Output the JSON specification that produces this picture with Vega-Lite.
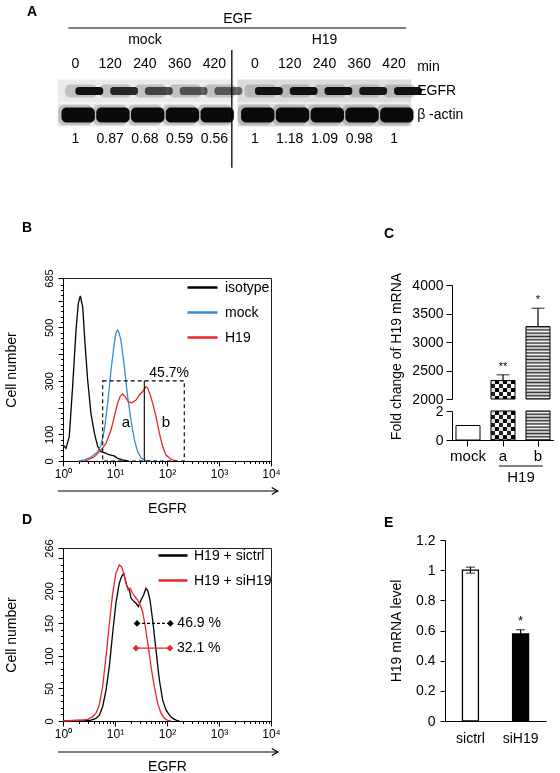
{
"$schema": "https://vega.github.io/schema/vega-lite/v6.json",
"autosize": {"type": "pad"},
"padding": {"left": 3, "top": 5, "right": 0, "bottom": 0},
"background": "white",
"config": {
  "font": "Liberation Sans",
  "view": {"stroke": null},
  "mark": {"color": "#000"},
  "axis": {"grid": false, "domainColor": "#000", "tickColor": "#000", "labelColor": "#000", "titleColor": "#000", "titleFontWeight": "normal", "labelFont": "Liberation Sans", "titleFont": "Liberation Sans", "labelOverlap": false, "labelFlush": false},
  "legend": {"labelColor": "#000", "labelFont": "Liberation Sans"},
  "title": {"fontSize": 14, "fontWeight": "bold", "anchor": "start", "color": "#000", "font": "Liberation Sans", "frame": "group", "baseline": "middle"},
  "text": {"font": "Liberation Sans", "color": "#000"}
},
"datasets": {
  "blot": [
    {"group": "mock", "time": "0", "protein": "EGFR", "intensity": 1},
    {"group": "mock", "time": "120", "protein": "EGFR", "intensity": 0.87},
    {"group": "mock", "time": "240", "protein": "EGFR", "intensity": 0.68},
    {"group": "mock", "time": "360", "protein": "EGFR", "intensity": 0.59},
    {"group": "mock", "time": "420", "protein": "EGFR", "intensity": 0.56},
    {"group": "H19", "time": "0", "protein": "EGFR", "intensity": 1},
    {"group": "H19", "time": "120", "protein": "EGFR", "intensity": 1.18},
    {"group": "H19", "time": "240", "protein": "EGFR", "intensity": 1.09},
    {"group": "H19", "time": "360", "protein": "EGFR", "intensity": 0.98},
    {"group": "H19", "time": "420", "protein": "EGFR", "intensity": 1},
    {"group": "mock", "time": "0", "protein": "actin", "intensity": 1},
    {"group": "mock", "time": "120", "protein": "actin", "intensity": 1},
    {"group": "mock", "time": "240", "protein": "actin", "intensity": 1},
    {"group": "mock", "time": "360", "protein": "actin", "intensity": 1},
    {"group": "mock", "time": "420", "protein": "actin", "intensity": 1},
    {"group": "H19", "time": "0", "protein": "actin", "intensity": 1},
    {"group": "H19", "time": "120", "protein": "actin", "intensity": 1},
    {"group": "H19", "time": "240", "protein": "actin", "intensity": 1},
    {"group": "H19", "time": "360", "protein": "actin", "intensity": 1},
    {"group": "H19", "time": "420", "protein": "actin", "intensity": 1}
  ],
  "flowB": [
    {"series": "isotype", "x": 1.01, "count": 60}, {"series": "isotype", "x": 1.14, "count": 47}, {"series": "isotype", "x": 1.32, "count": 91}, {"series": "isotype", "x": 1.53, "count": 278}, {"series": "isotype", "x": 1.78, "count": 490}, {"series": "isotype", "x": 1.97, "count": 590}, {"series": "isotype", "x": 2.15, "count": 618}, {"series": "isotype", "x": 2.39, "count": 578}, {"series": "isotype", "x": 2.65, "count": 440}, {"series": "isotype", "x": 2.98, "count": 303}, {"series": "isotype", "x": 3.45, "count": 178}, {"series": "isotype", "x": 4.01, "count": 104}, {"series": "isotype", "x": 4.65, "count": 54}, {"series": "isotype", "x": 5.38, "count": 35}, {"series": "isotype", "x": 6.24, "count": 31}, {"series": "isotype", "x": 7.23, "count": 26}, {"series": "isotype", "x": 8.38, "count": 22}, {"series": "isotype", "x": 9.7, "count": 19}, {"series": "isotype", "x": 11.2, "count": 10}, {"series": "isotype", "x": 14.0, "count": 4}, {"series": "isotype", "x": 17.5, "count": 0},
    {"series": "mock", "x": 2.0, "count": 0}, {"series": "mock", "x": 2.57, "count": 4}, {"series": "mock", "x": 3.45, "count": 14}, {"series": "mock", "x": 4.65, "count": 35}, {"series": "mock", "x": 5.38, "count": 60}, {"series": "mock", "x": 6.24, "count": 116}, {"series": "mock", "x": 7.23, "count": 216}, {"series": "mock", "x": 8.38, "count": 341}, {"series": "mock", "x": 9.7, "count": 440}, {"series": "mock", "x": 10.4, "count": 478}, {"series": "mock", "x": 11.2, "count": 490}, {"series": "mock", "x": 11.7, "count": 485}, {"series": "mock", "x": 13.0, "count": 453}, {"series": "mock", "x": 15.1, "count": 353}, {"series": "mock", "x": 17.5, "count": 241}, {"series": "mock", "x": 20.3, "count": 153}, {"series": "mock", "x": 23.6, "count": 79}, {"series": "mock", "x": 27.3, "count": 35}, {"series": "mock", "x": 31.6, "count": 12}, {"series": "mock", "x": 39.4, "count": 1}, {"series": "mock", "x": 50, "count": 0},
    {"series": "H19", "x": 2.6, "count": 0}, {"series": "H19", "x": 2.98, "count": 4}, {"series": "H19", "x": 4.01, "count": 16}, {"series": "H19", "x": 5.38, "count": 41}, {"series": "H19", "x": 6.71, "count": 66}, {"series": "H19", "x": 8.38, "count": 116}, {"series": "H19", "x": 9.7, "count": 166}, {"series": "H19", "x": 11.2, "count": 216}, {"series": "H19", "x": 12.7, "count": 243}, {"series": "H19", "x": 14.0, "count": 251}, {"series": "H19", "x": 15.6, "count": 241}, {"series": "H19", "x": 18.0, "count": 222}, {"series": "H19", "x": 20.9, "count": 218}, {"series": "H19", "x": 25.4, "count": 228}, {"series": "H19", "x": 29.4, "count": 247}, {"series": "H19", "x": 34.0, "count": 260}, {"series": "H19", "x": 39.4, "count": 278}, {"series": "H19", "x": 42.5, "count": 272}, {"series": "H19", "x": 47.8, "count": 247}, {"series": "H19", "x": 53.0, "count": 216}, {"series": "H19", "x": 61.4, "count": 166}, {"series": "H19", "x": 71.3, "count": 104}, {"series": "H19", "x": 82.6, "count": 54}, {"series": "H19", "x": 95.7, "count": 22}, {"series": "H19", "x": 119, "count": 7}, {"series": "H19", "x": 149, "count": 0}
  ],
  "flowD": [
    {"series": "H19 + sictrl", "x": 1, "count": 0}, {"series": "H19 + sictrl", "x": 2.57, "count": 0}, {"series": "H19 + sictrl", "x": 3.45, "count": 1.5}, {"series": "H19 + sictrl", "x": 4.31, "count": 4}, {"series": "H19 + sictrl", "x": 5.0, "count": 9}, {"series": "H19 + sictrl", "x": 5.79, "count": 22}, {"series": "H19 + sictrl", "x": 6.71, "count": 47}, {"series": "H19 + sictrl", "x": 7.78, "count": 84}, {"series": "H19 + sictrl", "x": 9.02, "count": 135}, {"series": "H19 + sictrl", "x": 10.4, "count": 181}, {"series": "H19 + sictrl", "x": 12.1, "count": 212}, {"series": "H19 + sictrl", "x": 13.4, "count": 222}, {"series": "H19 + sictrl", "x": 14.7, "count": 227}, {"series": "H19 + sictrl", "x": 15.6, "count": 219}, {"series": "H19 + sictrl", "x": 17.0, "count": 207}, {"series": "H19 + sictrl", "x": 18.9, "count": 201}, {"series": "H19 + sictrl", "x": 20.3, "count": 189}, {"series": "H19 + sictrl", "x": 22.9, "count": 184}, {"series": "H19 + sictrl", "x": 25.4, "count": 181}, {"series": "H19 + sictrl", "x": 28.1, "count": 176}, {"series": "H19 + sictrl", "x": 31.6, "count": 186}, {"series": "H19 + sictrl", "x": 35.6, "count": 194}, {"series": "H19 + sictrl", "x": 39.4, "count": 204}, {"series": "H19 + sictrl", "x": 42.5, "count": 201}, {"series": "H19 + sictrl", "x": 47.1, "count": 186}, {"series": "H19 + sictrl", "x": 53.0, "count": 155}, {"series": "H19 + sictrl", "x": 61.4, "count": 109}, {"series": "H19 + sictrl", "x": 71.3, "count": 63}, {"series": "H19 + sictrl", "x": 82.6, "count": 32}, {"series": "H19 + sictrl", "x": 95.7, "count": 17}, {"series": "H19 + sictrl", "x": 111, "count": 9}, {"series": "H19 + sictrl", "x": 129, "count": 4}, {"series": "H19 + sictrl", "x": 149, "count": 1.5}, {"series": "H19 + sictrl", "x": 173, "count": 0},
    {"series": "H19 + siH19", "x": 1, "count": 0}, {"series": "H19 + siH19", "x": 2.22, "count": 1.5}, {"series": "H19 + siH19", "x": 2.98, "count": 2.6}, {"series": "H19 + siH19", "x": 3.72, "count": 6.7}, {"series": "H19 + siH19", "x": 4.31, "count": 12}, {"series": "H19 + siH19", "x": 5.0, "count": 25}, {"series": "H19 + siH19", "x": 5.79, "count": 53}, {"series": "H19 + siH19", "x": 6.71, "count": 99}, {"series": "H19 + siH19", "x": 7.78, "count": 150}, {"series": "H19 + siH19", "x": 9.02, "count": 196}, {"series": "H19 + siH19", "x": 10.4, "count": 227}, {"series": "H19 + siH19", "x": 12.1, "count": 240}, {"series": "H19 + siH19", "x": 13.4, "count": 237}, {"series": "H19 + siH19", "x": 14.7, "count": 227}, {"series": "H19 + siH19", "x": 16.3, "count": 212}, {"series": "H19 + siH19", "x": 18.0, "count": 201}, {"series": "H19 + siH19", "x": 19.7, "count": 204}, {"series": "H19 + siH19", "x": 21.9, "count": 196}, {"series": "H19 + siH19", "x": 24.3, "count": 191}, {"series": "H19 + siH19", "x": 27.3, "count": 186}, {"series": "H19 + siH19", "x": 30.7, "count": 178}, {"series": "H19 + siH19", "x": 34.0, "count": 168}, {"series": "H19 + siH19", "x": 38.3, "count": 145}, {"series": "H19 + siH19", "x": 43.8, "count": 114}, {"series": "H19 + siH19", "x": 49.2, "count": 84}, {"series": "H19 + siH19", "x": 57.0, "count": 53}, {"series": "H19 + siH19", "x": 66.2, "count": 27}, {"series": "H19 + siH19", "x": 76.7, "count": 12}, {"series": "H19 + siH19", "x": 88.9, "count": 4}, {"series": "H19 + siH19", "x": 103, "count": 1}, {"series": "H19 + siH19", "x": 119, "count": 0}
  ],
  "gateD": [
    {"marker": "sictrl", "lo": 26.5, "hi": 116, "level": 150, "pct": "46.9 %"},
    {"marker": "siH19", "lo": 25.3, "hi": 114, "level": 112, "pct": "32.1 %"}
  ],
  "qpcrC": [
    {"grp": "mock", "mean": 1, "hi": 1, "sig": ""},
    {"grp": "a", "mean": 2325, "hi": 2425, "sig": "**"},
    {"grp": "b", "mean": 3270, "hi": 3592, "sig": "*"}
  ],
  "qpcrE": [
    {"cond": "sictrl", "mean": 1.0, "lo": 0.98, "hi": 1.02, "sig": ""},
    {"cond": "siH19", "mean": 0.577, "lo": 0.55, "hi": 0.605, "sig": "*"}
  ]
},
"spacing": 103,
"bounds": "flush",
"resolve": {"scale": {"color": "independent", "opacity": "independent", "strokeDash": "independent"}, "legend": {"color": "independent", "opacity": "independent"}},
"vconcat": [
  {
    "width": 400, "height": 155,
    "title": {"text": "A", "dx": -36, "offset": -7},
    "layer": [
      {
        "data": {"values": [{"group": "mock", "protein": "EGFR"}, {"group": "mock", "protein": "actin"}, {"group": "H19", "protein": "EGFR"}, {"group": "H19", "protein": "actin"}]},
        "mark": {"type": "rect", "height": {"band": 0.95}},
        "encoding": {
          "x": {"field": "group", "type": "nominal", "scale": {"domain": ["mock", "H19", "label"], "range": [-5, 528], "paddingInner": 0.032, "paddingOuter": 0}, "axis": null},
          "y": {"field": "protein", "type": "nominal", "scale": {"type": "band", "domain": ["EGF", "group", "time", "EGFR", "actin", "ratio", "end"], "range": [-13, 155], "paddingInner": 0, "paddingOuter": 0}, "axis": null},
          "color": {"condition": {"test": "datum.group == 'H19'", "value": "#dcdcdc"}, "value": "#ebebeb"}
        }
      },
      {
        "data": {"name": "blot"},
        "transform": [{"filter": "datum.protein == 'EGFR'"}],
        "mark": {"type": "rect", "width": {"band": 0.92}, "height": {"band": 0.55}, "cornerRadius": 5, "color": "#444", "opacity": 0.25},
        "encoding": {
          "x": {"field": "group", "type": "nominal", "axis": null},
          "xOffset": {"field": "time", "type": "nominal", "scale": {"domain": ["0", "120", "240", "360", "420"], "paddingInner": 0, "paddingOuter": 0}},
          "y": {"field": "protein", "type": "nominal", "axis": null}
        }
      },
      {
        "data": {"name": "blot"},
        "transform": [{"filter": "datum.protein == 'EGFR'"}],
        "mark": {"type": "rect", "width": {"band": 0.8}, "height": {"band": 0.34}, "cornerRadius": 3, "color": "#111"},
        "encoding": {
          "x": {"field": "group", "type": "nominal", "axis": null},
          "xOffset": {"field": "time", "type": "nominal"},
          "y": {"field": "protein", "type": "nominal", "axis": null},
          "opacity": {"field": "intensity", "type": "quantitative", "scale": {"domain": [0.5, 1], "range": [0.55, 1], "clamp": true}, "legend": null}
        }
      },
      {
        "data": {"name": "blot"},
        "transform": [{"filter": "datum.protein == 'actin'"}],
        "mark": {"type": "rect", "width": {"band": 1.0}, "height": {"band": 0.85}, "cornerRadius": 6, "color": "#444", "opacity": 0.25},
        "encoding": {
          "x": {"field": "group", "type": "nominal", "axis": null},
          "xOffset": {"field": "time", "type": "nominal"},
          "y": {"field": "protein", "type": "nominal", "axis": null}
        }
      },
      {
        "data": {"name": "blot"},
        "transform": [{"filter": "datum.protein == 'actin'"}],
        "mark": {"type": "rect", "width": {"band": 0.96}, "height": {"band": 0.62}, "cornerRadius": 5, "color": "#0a0a0a"},
        "encoding": {
          "x": {"field": "group", "type": "nominal", "axis": null},
          "xOffset": {"field": "time", "type": "nominal"},
          "y": {"field": "protein", "type": "nominal", "axis": null}
        }
      },
      {
        "data": {"name": "blot"},
        "transform": [{"filter": "datum.protein == 'EGFR'"}],
        "mark": {"type": "text", "fontSize": 14, "dy": -3},
        "encoding": {
          "x": {"field": "group", "type": "nominal", "axis": null},
          "xOffset": {"field": "time", "type": "nominal"},
          "y": {"datum": "time", "type": "nominal", "axis": null},
          "text": {"field": "time", "type": "nominal"}
        }
      },
      {
        "data": {"name": "blot"},
        "transform": [{"filter": "datum.protein == 'EGFR'"}],
        "mark": {"type": "text", "fontSize": 14},
        "encoding": {
          "x": {"field": "group", "type": "nominal", "axis": null},
          "xOffset": {"field": "time", "type": "nominal"},
          "y": {"datum": "ratio", "type": "nominal", "axis": null},
          "text": {"field": "intensity", "type": "quantitative", "format": "~g"}
        }
      },
      {
        "data": {"values": [{"group": "mock"}, {"group": "H19"}]},
        "mark": {"type": "text", "fontSize": 14, "dy": -3},
        "encoding": {
          "x": {"field": "group", "type": "nominal", "axis": null},
          "y": {"datum": "group", "type": "nominal", "axis": null},
          "text": {"field": "group", "type": "nominal"}
        }
      },
      {
        "data": {"values": [{"row": "time", "lab": "min"}, {"row": "EGFR", "lab": "EGFR"}, {"row": "actin", "lab": "β -actin"}]},
        "mark": {"type": "text", "fontSize": 14, "align": "left"},
        "encoding": {
          "x": {"datum": "label", "type": "nominal", "bandPosition": 0, "axis": null},
          "y": {"field": "row", "type": "nominal", "axis": null},
          "text": {"field": "lab", "type": "nominal"}
        }
      },
      {
        "data": {"values": [{}]},
        "mark": {"type": "text", "fontSize": 14, "text": "EGF"},
        "encoding": {
          "x": {"datum": "H19", "type": "nominal", "bandPosition": 0, "axis": null},
          "y": {"datum": "EGF", "type": "nominal", "axis": null}
        }
      },
      {
        "data": {"values": [{}]},
        "mark": {"type": "rule", "strokeWidth": 1.2},
        "encoding": {
          "x": {"datum": "mock", "type": "nominal", "bandPosition": 0.06, "axis": null},
          "x2": {"datum": "H19", "bandPosition": 0.97},
          "y": {"datum": "EGF", "type": "nominal", "bandPosition": 0.875, "axis": null}
        }
      },
      {
        "data": {"values": [{}]},
        "mark": {"type": "rule", "strokeWidth": 1.3},
        "encoding": {
          "x": {"datum": "mock", "type": "nominal", "bandPosition": 1, "axis": null},
          "y": {"datum": "group", "type": "nominal", "bandPosition": 0.79, "axis": null},
          "y2": {"datum": "end", "bandPosition": 0.7}
        }
      }
    ]
  },
  {
    "spacing": 389,
    "bounds": "flush",
    "resolve": {"scale": {"color": "independent", "opacity": "independent", "strokeDash": "independent"}, "legend": {"color": "independent", "opacity": "independent"}},
    "hconcat": [
      {
        "spacing": 87,
        "bounds": "flush",
        "resolve": {"scale": {"color": "independent", "opacity": "independent", "strokeDash": "independent"}, "legend": {"color": "independent", "opacity": "independent"}},
        "vconcat": [
          {
            "width": 208, "height": 183,
            "view": {"stroke": "#222"},
            "title": {"text": "B", "dx": -41, "offset": 34},
            "resolve": {"axis": {"x": "independent", "y": "independent"}},
            "layer": [
              {
                "data": {"name": "flowB"},
                "mark": {"type": "line", "strokeWidth": 1.3},
                "encoding": {
                  "x": {"field": "x", "type": "quantitative", "scale": {"type": "log", "domain": [1, 10000], "nice": false},
                    "axis": {"title": "EGFR", "titleFontSize": 14, "titlePadding": 22, "values": [1,2,3,4,5,6,7,8,9,10,20,30,40,50,60,70,80,90,100,200,300,400,500,600,700,800,900,1000,2000,3000,4000,5000,6000,7000,8000,9000,10000],
                      "labelExpr": "indexof([1,10,100,1000,10000], datum.value) >= 0 ? '10' + ['⁰','¹','²','³','⁴'][round(log(datum.value)/LN10)] : ''",
                      "labelFontSize": 12, "labelPadding": 2, "labelOverlap": false, "labelFlush": false,
                      "tickSize": {"condition": {"test": "indexof([1,10,100,1000,10000], datum.value) >= 0", "value": 5}, "value": 2.5}}},
                  "y": {"field": "count", "type": "quantitative", "scale": {"domain": [0, 685], "nice": false},
                    "axis": {"title": "Cell number", "titleFontSize": 14, "titlePadding": 25, "values": [0,20,40,60,80,100,120,140,160,180,200,220,240,260,280,300,320,340,360,380,400,420,440,460,480,500,520,540,560,580,600,620,640,660,685],
                      "labelExpr": "indexof([0,100,300,500,685], datum.value) >= 0 ? datum.label : ''",
                      "labelAngle": -90, "labelAlign": "center", "labelBaseline": "bottom", "labelFontSize": 11, "labelPadding": 4, "labelOverlap": false, "labelFlush": false,
                      "tickSize": {"condition": {"test": "datum.value % 100 == 0 || datum.value == 685", "value": 5}, "value": 2.5}}},
                  "color": {"field": "series", "type": "nominal", "scale": {"domain": ["isotype", "mock", "H19"], "range": ["#000000", "#3a8dd0", "#e8262b"]},
                    "legend": {"orient": "none", "legendX": 123, "legendY": -3, "title": null, "symbolType": "stroke", "symbolSize": 900, "symbolStrokeWidth": 2.5, "labelFontSize": 14, "labelOffset": 6, "clipHeight": 25, "rowPadding": 0}}
                }
              },
              {
                "data": {"values": [{}]},
                "mark": {"type": "rect", "fill": "transparent", "stroke": "#000", "strokeDash": [4, 3], "strokeWidth": 1.1},
                "encoding": {
                  "x": {"datum": 5.8, "type": "quantitative", "axis": null}, "x2": {"datum": 215},
                  "y": {"datum": 300, "type": "quantitative", "axis": null}, "y2": {"datum": 0}
                }
              },
              {
                "data": {"values": [{}]},
                "mark": {"type": "rule", "strokeWidth": 1.1},
                "encoding": {
                  "x": {"datum": 36.6, "type": "quantitative", "axis": null},
                  "y": {"datum": 300, "type": "quantitative", "axis": null}, "y2": {"datum": 0}
                }
              },
              {
                "data": {"values": [{}]},
                "mark": {"type": "text", "fontSize": 14, "align": "left", "baseline": "middle", "text": "45.7%"},
                "encoding": {"x": {"datum": 45.7, "type": "quantitative", "axis": null}, "y": {"datum": 329, "type": "quantitative", "axis": null}}
              },
              {
                "data": {"values": [{}]},
                "mark": {"type": "text", "fontSize": 15, "baseline": "middle", "text": "a"},
                "encoding": {"x": {"datum": 16.2, "type": "quantitative", "axis": null}, "y": {"datum": 147, "type": "quantitative", "axis": null}}
              },
              {
                "data": {"values": [{}]},
                "mark": {"type": "text", "fontSize": 15, "baseline": "middle", "text": "b"},
                "encoding": {"x": {"datum": 95.7, "type": "quantitative", "axis": null}, "y": {"datum": 147, "type": "quantitative", "axis": null}}
              },
              {
                "data": {"values": [{}]},
                "mark": {"type": "rule", "strokeWidth": 1.2, "yOffset": 30},
                "encoding": {"x": {"datum": 0.8, "type": "quantitative", "axis": null}, "x2": {"datum": 13500}, "y": {"datum": 0, "type": "quantitative", "axis": null}}
              },
              {
                "data": {"values": [{}]},
                "mark": {"type": "point", "shape": "M -1 -0.6 L 0 0 L -1 0.6", "filled": false, "size": 144, "strokeWidth": 1.2, "yOffset": 30, "opacity": 1},
                "encoding": {"x": {"datum": 13500, "type": "quantitative", "axis": null}, "y": {"datum": 0, "type": "quantitative", "axis": null}}
              }
            ]
          },
          {
            "width": 208, "height": 173,
            "view": {"stroke": "#222"},
            "title": {"text": "D", "dx": -41, "offset": 12},
            "resolve": {"axis": {"x": "independent", "y": "independent"}},
            "layer": [
              {
                "data": {"name": "flowD"},
                "mark": {"type": "line", "strokeWidth": 1.3},
                "encoding": {
                  "x": {"field": "x", "type": "quantitative", "scale": {"type": "log", "domain": [1, 10000], "nice": false},
                    "axis": {"title": "EGFR", "titleFontSize": 14, "titlePadding": 20, "values": [1,2,3,4,5,6,7,8,9,10,20,30,40,50,60,70,80,90,100,200,300,400,500,600,700,800,900,1000,2000,3000,4000,5000,6000,7000,8000,9000,10000],
                      "labelExpr": "indexof([1,10,100,1000,10000], datum.value) >= 0 ? '10' + ['⁰','¹','²','³','⁴'][round(log(datum.value)/LN10)] : ''",
                      "labelFontSize": 12, "labelPadding": 2, "labelOverlap": false, "labelFlush": false,
                      "tickSize": {"condition": {"test": "indexof([1,10,100,1000,10000], datum.value) >= 0", "value": 5}, "value": 2.5}}},
                  "y": {"field": "count", "type": "quantitative", "scale": {"domain": [0, 266], "nice": false},
                    "axis": {"title": "Cell number", "titleFontSize": 14, "titlePadding": 25, "values": [0,10,20,30,40,50,60,70,80,90,100,110,120,130,140,150,160,170,180,190,200,210,220,230,240,250,266],
                      "labelExpr": "indexof([0,50,100,150,200,266], datum.value) >= 0 ? datum.label : ''",
                      "labelAngle": -90, "labelAlign": "center", "labelBaseline": "bottom", "labelFontSize": 11, "labelPadding": 4, "labelOverlap": false, "labelFlush": false,
                      "tickSize": {"condition": {"test": "datum.value % 50 == 0 || datum.value == 266", "value": 5}, "value": 2.5}}},
                  "color": {"field": "series", "type": "nominal", "scale": {"domain": ["H19 + sictrl", "H19 + siH19"], "range": ["#000000", "#e8262b"]},
                    "legend": {"orient": "none", "legendX": 94, "legendY": -5, "title": null, "symbolType": "stroke", "symbolSize": 841, "symbolStrokeWidth": 2.5, "labelFontSize": 14, "labelOffset": 5, "clipHeight": 25, "rowPadding": 0}}
                }
              },
              {
                "data": {"name": "gateD"},
                "mark": {"type": "rule", "strokeWidth": 1.3},
                "encoding": {
                  "x": {"field": "lo", "type": "quantitative", "axis": null}, "x2": {"field": "hi"},
                  "y": {"field": "level", "type": "quantitative", "axis": null},
                  "color": {"condition": {"test": "datum.marker == 'siH19'", "value": "#e8262b"}, "value": "#000"},
                  "strokeDash": {"condition": {"test": "datum.marker == 'siH19'", "value": [1, 0]}, "value": [3, 2]}
                }
              },
              {
                "data": {"name": "gateD"},
                "mark": {"type": "point", "shape": "diamond", "filled": true, "size": 45, "opacity": 1},
                "encoding": {
                  "x": {"field": "lo", "type": "quantitative", "axis": null},
                  "y": {"field": "level", "type": "quantitative", "axis": null},
                  "color": {"condition": {"test": "datum.marker == 'siH19'", "value": "#e8262b"}, "value": "#000"}
                }
              },
              {
                "data": {"name": "gateD"},
                "mark": {"type": "point", "shape": "diamond", "filled": true, "size": 45, "opacity": 1},
                "encoding": {
                  "x": {"field": "hi", "type": "quantitative", "axis": null},
                  "y": {"field": "level", "type": "quantitative", "axis": null},
                  "color": {"condition": {"test": "datum.marker == 'siH19'", "value": "#e8262b"}, "value": "#000"}
                }
              },
              {
                "data": {"name": "gateD"},
                "mark": {"type": "text", "fontSize": 14, "align": "left", "baseline": "middle", "dx": 7},
                "encoding": {
                  "x": {"field": "hi", "type": "quantitative", "axis": null},
                  "y": {"field": "level", "type": "quantitative", "axis": null},
                  "text": {"field": "pct", "type": "nominal"}
                }
              },
              {
                "data": {"values": [{}]},
                "mark": {"type": "rule", "strokeWidth": 1.2, "yOffset": 31},
                "encoding": {"x": {"datum": 0.8, "type": "quantitative", "axis": null}, "x2": {"datum": 13500}, "y": {"datum": 0, "type": "quantitative", "axis": null}}
              },
              {
                "data": {"values": [{}]},
                "mark": {"type": "point", "shape": "M -1 -0.6 L 0 0 L -1 0.6", "filled": false, "size": 144, "strokeWidth": 1.2, "yOffset": 31, "opacity": 1},
                "encoding": {"x": {"datum": 13500, "type": "quantitative", "axis": null}, "y": {"datum": 0, "type": "quantitative", "axis": null}}
              }
            ]
          }
        ]
      },
      {
        "spacing": 262,
        "bounds": "flush",
        "resolve": {"scale": {"color": "independent", "opacity": "independent", "strokeDash": "independent"}, "legend": {"color": "independent", "opacity": "independent"}},
        "vconcat": [
          {
            "spacing": 12,
            "bounds": "flush",
            "vconcat": [
              {
                "width": 102, "height": 121,
                "title": {"text": "C", "dx": -68, "offset": 31},
                "data": {"name": "qpcrC"},
                "transform": [{"filter": "datum.grp != 'mock'"}],
                "resolve": {"axis": {"x": "independent", "y": "independent"}},
                "encoding": {
                  "x": {"field": "grp", "type": "nominal", "scale": {"domain": ["mock", "a", "b"], "paddingInner": 0.314, "paddingOuter": 0.114}, "axis": null}
                },
                "layer": [
                  {
                    "transform": [{"filter": "datum.grp == 'b'"}],
                    "mark": {"type": "bar", "stroke": "#000", "strokeWidth": 1,
                      "fill": {"gradient": "linear", "x1": 0, "y1": 0, "x2": 0, "y2": 1, "stops": [
                        {"offset": 0, "color": "#333"}, {"offset": 0.0227, "color": "#fff"}, {"offset": 0.0455, "color": "#333"}, {"offset": 0.0682, "color": "#fff"}, {"offset": 0.0909, "color": "#333"}, {"offset": 0.1136, "color": "#fff"}, {"offset": 0.1364, "color": "#333"}, {"offset": 0.1591, "color": "#fff"}, {"offset": 0.1818, "color": "#333"}, {"offset": 0.2045, "color": "#fff"}, {"offset": 0.2273, "color": "#333"}, {"offset": 0.25, "color": "#fff"}, {"offset": 0.2727, "color": "#333"}, {"offset": 0.2955, "color": "#fff"}, {"offset": 0.3182, "color": "#333"}, {"offset": 0.3409, "color": "#fff"}, {"offset": 0.3636, "color": "#333"}, {"offset": 0.3864, "color": "#fff"}, {"offset": 0.4091, "color": "#333"}, {"offset": 0.4318, "color": "#fff"}, {"offset": 0.4545, "color": "#333"}, {"offset": 0.4773, "color": "#fff"}, {"offset": 0.5, "color": "#333"}, {"offset": 0.5227, "color": "#fff"}, {"offset": 0.5455, "color": "#333"}, {"offset": 0.5682, "color": "#fff"}, {"offset": 0.5909, "color": "#333"}, {"offset": 0.6136, "color": "#fff"}, {"offset": 0.6364, "color": "#333"}, {"offset": 0.6591, "color": "#fff"}, {"offset": 0.6818, "color": "#333"}, {"offset": 0.7045, "color": "#fff"}, {"offset": 0.7273, "color": "#333"}, {"offset": 0.75, "color": "#fff"}, {"offset": 0.7727, "color": "#333"}, {"offset": 0.7955, "color": "#fff"}, {"offset": 0.8182, "color": "#333"}, {"offset": 0.8409, "color": "#fff"}, {"offset": 0.8636, "color": "#333"}, {"offset": 0.8864, "color": "#fff"}, {"offset": 0.9091, "color": "#333"}, {"offset": 0.9318, "color": "#fff"}, {"offset": 0.9545, "color": "#333"}, {"offset": 0.9773, "color": "#fff"}, {"offset": 1, "color": "#333"}
                      ]}},
                    "encoding": {
                      "y": {"field": "mean", "type": "quantitative", "scale": {"domain": [2000, 4000], "range": [121, 7], "nice": false, "zero": false},
                        "axis": {"values": [2000, 2500, 3000, 3500, 4000], "format": "d", "tickSize": 6, "labelFontSize": 14, "labelPadding": 3, "labelFlush": false, "labelOverlap": false, "title": "Fold change of H19 mRNA", "titleFontSize": 14, "titlePadding": 8, "titleY": 78}},
                      "y2": {"datum": 2000}
                    }
                  },
                  {
                    "transform": [{"filter": "datum.grp == 'a'"}],
                    "mark": {"type": "bar",
                      "fill": {"gradient": "linear", "x1": 0, "y1": 0, "x2": 1, "y2": 0, "stops": [
                        {"offset": 0, "color": "#222"}, {"offset": 0.1667, "color": "#222"}, {"offset": 0.1667, "color": "#fff"}, {"offset": 0.3333, "color": "#fff"}, {"offset": 0.3333, "color": "#222"}, {"offset": 0.5, "color": "#222"}, {"offset": 0.5, "color": "#fff"}, {"offset": 0.6667, "color": "#fff"}, {"offset": 0.6667, "color": "#222"}, {"offset": 0.8333, "color": "#222"}, {"offset": 0.8333, "color": "#fff"}, {"offset": 1, "color": "#fff"}
                      ]}},
                    "encoding": {"y": {"field": "mean", "type": "quantitative", "axis": null}, "y2": {"datum": 2000}}
                  },
                  {
                    "transform": [{"filter": "datum.grp == 'a'"}],
                    "mark": {"type": "bar", "blend": "difference",
                      "fill": {"gradient": "linear", "x1": 0, "y1": 0, "x2": 0, "y2": 1, "stops": [
                        {"offset": 0, "color": "#fff"}, {"offset": 0.216, "color": "#fff"}, {"offset": 0.216, "color": "rgba(255,255,255,0)"}, {"offset": 0.432, "color": "rgba(255,255,255,0)"}, {"offset": 0.432, "color": "#fff"}, {"offset": 0.648, "color": "#fff"}, {"offset": 0.648, "color": "rgba(255,255,255,0)"}, {"offset": 0.864, "color": "rgba(255,255,255,0)"}, {"offset": 0.864, "color": "#fff"}, {"offset": 1, "color": "#fff"}
                      ]}},
                    "encoding": {"y": {"field": "mean", "type": "quantitative", "axis": null}, "y2": {"datum": 2000}}
                  },
                  {
                    "transform": [{"filter": "datum.grp == 'a'"}],
                    "mark": {"type": "bar", "fill": "transparent", "stroke": "#000", "strokeWidth": 1},
                    "encoding": {"y": {"field": "mean", "type": "quantitative", "axis": null}, "y2": {"datum": 2000}}
                  },
                  {
                    "mark": {"type": "rule", "strokeWidth": 1.2},
                    "encoding": {"y": {"field": "mean", "type": "quantitative", "axis": null}, "y2": {"field": "hi"}}
                  },
                  {
                    "mark": {"type": "tick", "size": 13, "thickness": 1.2, "orient": "horizontal"},
                    "encoding": {"y": {"field": "hi", "type": "quantitative", "axis": null}}
                  },
                  {
                    "mark": {"type": "text", "fontSize": 11, "baseline": "bottom", "dy": -3},
                    "encoding": {"y": {"field": "hi", "type": "quantitative", "axis": null}, "text": {"field": "sig", "type": "nominal"}}
                  }
                ]
              },
              {
                "width": 102, "height": 29,
                "data": {"name": "qpcrC"},
                "resolve": {"axis": {"x": "independent", "y": "independent"}},
                "layer": [
                  {
                    "transform": [{"filter": "datum.grp == 'mock'"}],
                    "mark": {"type": "bar", "fill": "#fff", "stroke": "#000", "strokeWidth": 1},
                    "encoding": {
                      "x": {"field": "grp", "type": "nominal", "scale": {"domain": ["mock", "a", "b"], "paddingInner": 0.314, "paddingOuter": 0.114},
                        "axis": {"title": "H19", "titleX": 68.5, "titleFontSize": 15, "titlePadding": 6, "labelFontSize": 15, "labelAngle": 0, "tickSize": 6, "labelPadding": 2, "labelOverlap": false}},
                      "y": {"field": "mean", "type": "quantitative", "scale": {"domain": [0, 2], "nice": false, "clamp": true},
                        "axis": {"values": [0, 1, 2], "format": "d", "tickSize": 6, "labelFontSize": 14, "labelPadding": 3, "labelFlush": false, "labelOverlap": false, "title": null}}
                    }
                  },
                  {
                    "transform": [{"filter": "datum.grp == 'b'"}],
                    "mark": {"type": "bar", "stroke": "#000", "strokeWidth": 1,
                      "fill": {"gradient": "linear", "x1": 0, "y1": 0, "x2": 0, "y2": 1, "stops": [
                        {"offset": 0, "color": "#333"}, {"offset": 0.0556, "color": "#fff"}, {"offset": 0.1111, "color": "#333"}, {"offset": 0.1667, "color": "#fff"}, {"offset": 0.2222, "color": "#333"}, {"offset": 0.2778, "color": "#fff"}, {"offset": 0.3333, "color": "#333"}, {"offset": 0.3889, "color": "#fff"}, {"offset": 0.4444, "color": "#333"}, {"offset": 0.5, "color": "#fff"}, {"offset": 0.5556, "color": "#333"}, {"offset": 0.6111, "color": "#fff"}, {"offset": 0.6667, "color": "#333"}, {"offset": 0.7222, "color": "#fff"}, {"offset": 0.7778, "color": "#333"}, {"offset": 0.8333, "color": "#fff"}, {"offset": 0.8889, "color": "#333"}, {"offset": 0.9444, "color": "#fff"}, {"offset": 1, "color": "#333"}
                      ]}},
                    "encoding": {"x": {"field": "grp", "type": "nominal", "axis": null}, "y": {"field": "mean", "type": "quantitative", "axis": null}}
                  },
                  {
                    "transform": [{"filter": "datum.grp == 'a'"}],
                    "mark": {"type": "bar",
                      "fill": {"gradient": "linear", "x1": 0, "y1": 0, "x2": 1, "y2": 0, "stops": [
                        {"offset": 0, "color": "#222"}, {"offset": 0.1667, "color": "#222"}, {"offset": 0.1667, "color": "#fff"}, {"offset": 0.3333, "color": "#fff"}, {"offset": 0.3333, "color": "#222"}, {"offset": 0.5, "color": "#222"}, {"offset": 0.5, "color": "#fff"}, {"offset": 0.6667, "color": "#fff"}, {"offset": 0.6667, "color": "#222"}, {"offset": 0.8333, "color": "#222"}, {"offset": 0.8333, "color": "#fff"}, {"offset": 1, "color": "#fff"}
                      ]}},
                    "encoding": {"x": {"field": "grp", "type": "nominal", "axis": null}, "y": {"field": "mean", "type": "quantitative", "axis": null}}
                  },
                  {
                    "transform": [{"filter": "datum.grp == 'a'"}],
                    "mark": {"type": "bar", "blend": "difference",
                      "fill": {"gradient": "linear", "x1": 0, "y1": 0, "x2": 0, "y2": 1, "stops": [
                        {"offset": 0, "color": "#fff"}, {"offset": 0.138, "color": "#fff"}, {"offset": 0.138, "color": "rgba(255,255,255,0)"}, {"offset": 0.276, "color": "rgba(255,255,255,0)"}, {"offset": 0.276, "color": "#fff"}, {"offset": 0.414, "color": "#fff"}, {"offset": 0.414, "color": "rgba(255,255,255,0)"}, {"offset": 0.552, "color": "rgba(255,255,255,0)"}, {"offset": 0.552, "color": "#fff"}, {"offset": 0.69, "color": "#fff"}, {"offset": 0.69, "color": "rgba(255,255,255,0)"}, {"offset": 0.828, "color": "rgba(255,255,255,0)"}, {"offset": 0.828, "color": "#fff"}, {"offset": 0.966, "color": "#fff"}, {"offset": 0.966, "color": "rgba(255,255,255,0)"}, {"offset": 1, "color": "rgba(255,255,255,0)"}
                      ]}},
                    "encoding": {"x": {"field": "grp", "type": "nominal", "axis": null}, "y": {"field": "mean", "type": "quantitative", "axis": null}}
                  },
                  {
                    "transform": [{"filter": "datum.grp == 'a'"}],
                    "mark": {"type": "bar", "fill": "transparent", "stroke": "#000", "strokeWidth": 1},
                    "encoding": {"x": {"field": "grp", "type": "nominal", "axis": null}, "y": {"field": "mean", "type": "quantitative", "axis": null}}
                  },
                  {
                    "data": {"values": [{}]},
                    "mark": {"type": "rule", "strokeWidth": 1.2, "yOffset": 26},
                    "encoding": {
                      "x": {"datum": "a", "type": "nominal", "bandPosition": 0.33, "axis": null},
                      "x2": {"datum": "b", "bandPosition": 0.7},
                      "y": {"datum": 0, "type": "quantitative", "axis": null}
                    }
                  }
                ]
              }
            ]
          },
          {
            "width": 94, "height": 181,
            "title": {"text": "E", "dx": -68, "offset": 3},
            "data": {"name": "qpcrE"},
            "resolve": {"axis": {"x": "independent", "y": "independent"}},
            "layer": [
              {
                "mark": {"type": "bar", "stroke": "#000", "strokeWidth": 1.3},
                "encoding": {
                  "x": {"field": "cond", "type": "nominal", "scale": {"domain": ["sictrl", "siH19"], "range": [-7, 94], "paddingInner": 0.681, "paddingOuter": 0.348},
                    "axis": {"title": null, "ticks": false, "tickSize": 0, "labelPadding": 10, "labelFontSize": 14, "labelAngle": 0, "labelOverlap": false}},
                  "y": {"field": "mean", "type": "quantitative", "scale": {"domain": [0, 1.2], "nice": false},
                    "axis": {"values": [0, 0.2, 0.4, 0.6, 0.8, 1, 1.2], "format": "~g", "offset": 7, "tickSize": 5, "labelFontSize": 14, "labelPadding": 5, "labelFlush": false, "labelOverlap": false, "title": "H19 mRNA level", "titleFontSize": 14, "titlePadding": 12}},
                  "fill": {"condition": {"test": "datum.cond == 'siH19'", "value": "#000"}, "value": "#fff"}
                }
              },
              {
                "mark": {"type": "rule", "strokeWidth": 1.2},
                "encoding": {"x": {"field": "cond", "type": "nominal", "axis": null}, "y": {"field": "lo", "type": "quantitative", "axis": null}, "y2": {"field": "hi"}}
              },
              {
                "mark": {"type": "tick", "size": 9, "thickness": 1.2, "orient": "horizontal"},
                "encoding": {"x": {"field": "cond", "type": "nominal", "axis": null}, "y": {"field": "hi", "type": "quantitative", "axis": null}}
              },
              {
                "mark": {"type": "tick", "size": 9, "thickness": 1.2, "orient": "horizontal"},
                "encoding": {"x": {"field": "cond", "type": "nominal", "axis": null}, "y": {"field": "lo", "type": "quantitative", "axis": null}}
              },
              {
                "mark": {"type": "text", "fontSize": 13, "baseline": "bottom", "dy": -2},
                "encoding": {"x": {"field": "cond", "type": "nominal", "axis": null}, "y": {"field": "hi", "type": "quantitative", "axis": null}, "text": {"field": "sig", "type": "nominal"}}
              }
            ]
          }
        ]
      }
    ]
  }
]
}
